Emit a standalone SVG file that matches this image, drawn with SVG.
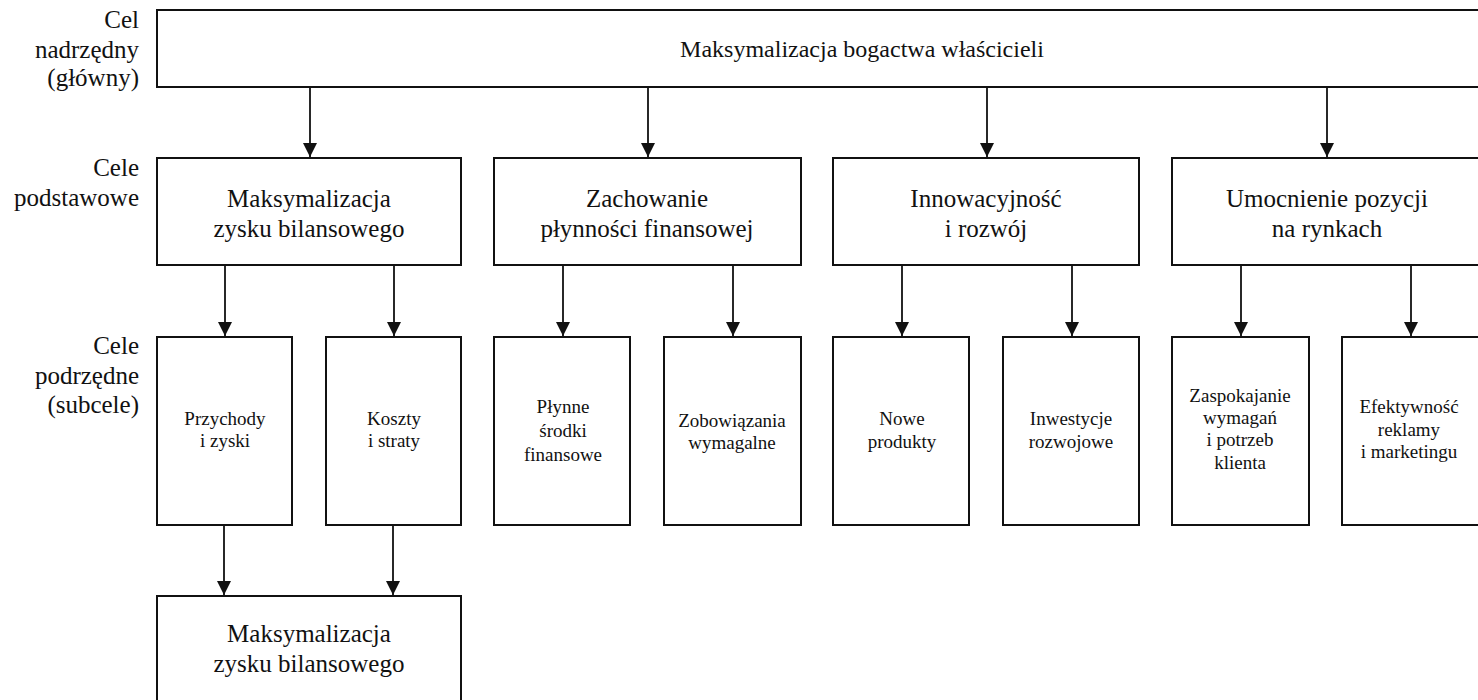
<svg xmlns="http://www.w3.org/2000/svg" width="1478" height="700" viewBox="0 0 1478 700">
  <style>
    text { font-family: "Liberation Serif", Tinos, "Times New Roman", Times, "Nimbus Roman", "Noto Serif", "DejaVu Serif", FreeSerif, serif; fill: #111111; }
    .box { fill: #ffffff; stroke: #111111; stroke-width: 2; }
    .edge { stroke: #111111; stroke-width: 1.8; fill: none; marker-end: url(#head); }
    .lvl { font-size: 25px; text-anchor: end; }
    .big { font-size: 25px; text-anchor: middle; }
    .title { font-size: 24px; text-anchor: middle; }
    .small { font-size: 19px; text-anchor: middle; }
  </style>
  <defs>
    <!-- filled triangular arrowhead, tip at the end of the line -->
    <marker id="head" markerUnits="userSpaceOnUse" markerWidth="14" markerHeight="14" viewBox="0 0 14 14" refX="14" refY="7" orient="auto">
      <path d="M0,0 L14,7 L0,14 Z" fill="#111111"/>
    </marker>
  </defs>
  <rect width="1478" height="700" fill="#ffffff"/>

  <!-- level captions -->
  <g id="captions">
    <text class="lvl" x="139" y="28">Cel</text>
    <text class="lvl" x="139" y="58">nadrzędny</text>
    <text class="lvl" x="139" y="86">(główny)</text>
    <text class="lvl" x="139" y="176">Cele</text>
    <text class="lvl" x="139" y="206">podstawowe</text>
    <text class="lvl" x="139" y="354">Cele</text>
    <text class="lvl" x="139" y="384">podrzędne</text>
    <text class="lvl" x="139" y="413">(subcele)</text>
  </g>

  <!-- connectors -->
  <g id="connectors">
    <line class="edge" x1="310" y1="87" x2="310" y2="157"/>
    <line class="edge" x1="648" y1="87" x2="648" y2="157"/>
    <line class="edge" x1="987" y1="87" x2="987" y2="157"/>
    <line class="edge" x1="1327" y1="87" x2="1327" y2="157"/>

    <line class="edge" x1="225" y1="265" x2="225" y2="336"/>
    <line class="edge" x1="394" y1="265" x2="394" y2="336"/>
    <line class="edge" x1="563" y1="265" x2="563" y2="336"/>
    <line class="edge" x1="733" y1="265" x2="733" y2="336"/>
    <line class="edge" x1="902" y1="265" x2="902" y2="336"/>
    <line class="edge" x1="1072" y1="265" x2="1072" y2="336"/>
    <line class="edge" x1="1241" y1="265" x2="1241" y2="336"/>
    <line class="edge" x1="1411" y1="265" x2="1411" y2="336"/>

    <line class="edge" x1="224" y1="525" x2="224" y2="595"/>
    <line class="edge" x1="393" y1="525" x2="393" y2="595"/>
  </g>

  <!-- main goal -->
  <g id="goal-main">
    <rect class="box" x="157" y="10" width="1340" height="77"/>
    <text class="title" x="862" y="57">Maksymalizacja bogactwa właścicieli</text>
  </g>

  <!-- basic goals -->
  <g id="goal-profit">
    <rect class="box" x="157" y="158" width="304" height="107"/>
    <text class="big" x="309" y="207">Maksymalizacja</text>
    <text class="big" x="309" y="237">zysku bilansowego</text>
  </g>
  <g id="goal-liquidity">
    <rect class="box" x="494" y="158" width="307" height="107"/>
    <text class="big" x="647" y="207">Zachowanie</text>
    <text class="big" x="647" y="237">płynności finansowej</text>
  </g>
  <g id="goal-innovation">
    <rect class="box" x="833" y="158" width="306" height="107"/>
    <text class="big" x="986" y="207">Innowacyjność</text>
    <text class="big" x="986" y="237">i rozwój</text>
  </g>
  <g id="goal-market">
    <rect class="box" x="1172" y="158" width="320" height="107"/>
    <text class="big" x="1327" y="207">Umocnienie pozycji</text>
    <text class="big" x="1327" y="237">na rynkach</text>
  </g>

  <!-- sub-goals -->
  <g id="sub-revenue">
    <rect class="box" x="157" y="337" width="135" height="188"/>
    <text class="small" x="225" y="425">Przychody</text>
    <text class="small" x="225" y="447">i zyski</text>
  </g>
  <g id="sub-costs">
    <rect class="box" x="326" y="337" width="135" height="188"/>
    <text class="small" x="394" y="425">Koszty</text>
    <text class="small" x="394" y="447">i straty</text>
  </g>
  <g id="sub-liquid-assets">
    <rect class="box" x="494" y="337" width="136" height="188"/>
    <text class="small" x="563" y="413">Płynne</text>
    <text class="small" x="563" y="437">środki</text>
    <text class="small" x="563" y="461">finansowe</text>
  </g>
  <g id="sub-liabilities">
    <rect class="box" x="664" y="337" width="137" height="188"/>
    <text class="small" x="732" y="427">Zobowiązania</text>
    <text class="small" x="732" y="449">wymagalne</text>
  </g>
  <g id="sub-products">
    <rect class="box" x="833" y="337" width="136" height="188"/>
    <text class="small" x="902" y="425">Nowe</text>
    <text class="small" x="902" y="448">produkty</text>
  </g>
  <g id="sub-investments">
    <rect class="box" x="1003" y="337" width="136" height="188"/>
    <text class="small" x="1071" y="425">Inwestycje</text>
    <text class="small" x="1071" y="448">rozwojowe</text>
  </g>
  <g id="sub-customer">
    <rect class="box" x="1172" y="337" width="137" height="188"/>
    <text class="small" x="1240" y="402">Zaspokajanie</text>
    <text class="small" x="1240" y="424">wymagań</text>
    <text class="small" x="1240" y="446">i potrzeb</text>
    <text class="small" x="1240" y="469">klienta</text>
  </g>
  <g id="sub-advertising">
    <rect class="box" x="1342" y="337" width="137" height="188"/>
    <text class="small" x="1409" y="413">Efektywność</text>
    <text class="small" x="1409" y="436">reklamy</text>
    <text class="small" x="1409" y="458">i marketingu</text>
  </g>

  <!-- resulting goal -->
  <g id="goal-profit-result">
    <rect class="box" x="157" y="596" width="304" height="130"/>
    <text class="big" x="309" y="642">Maksymalizacja</text>
    <text class="big" x="309" y="672">zysku bilansowego</text>
  </g>
</svg>
